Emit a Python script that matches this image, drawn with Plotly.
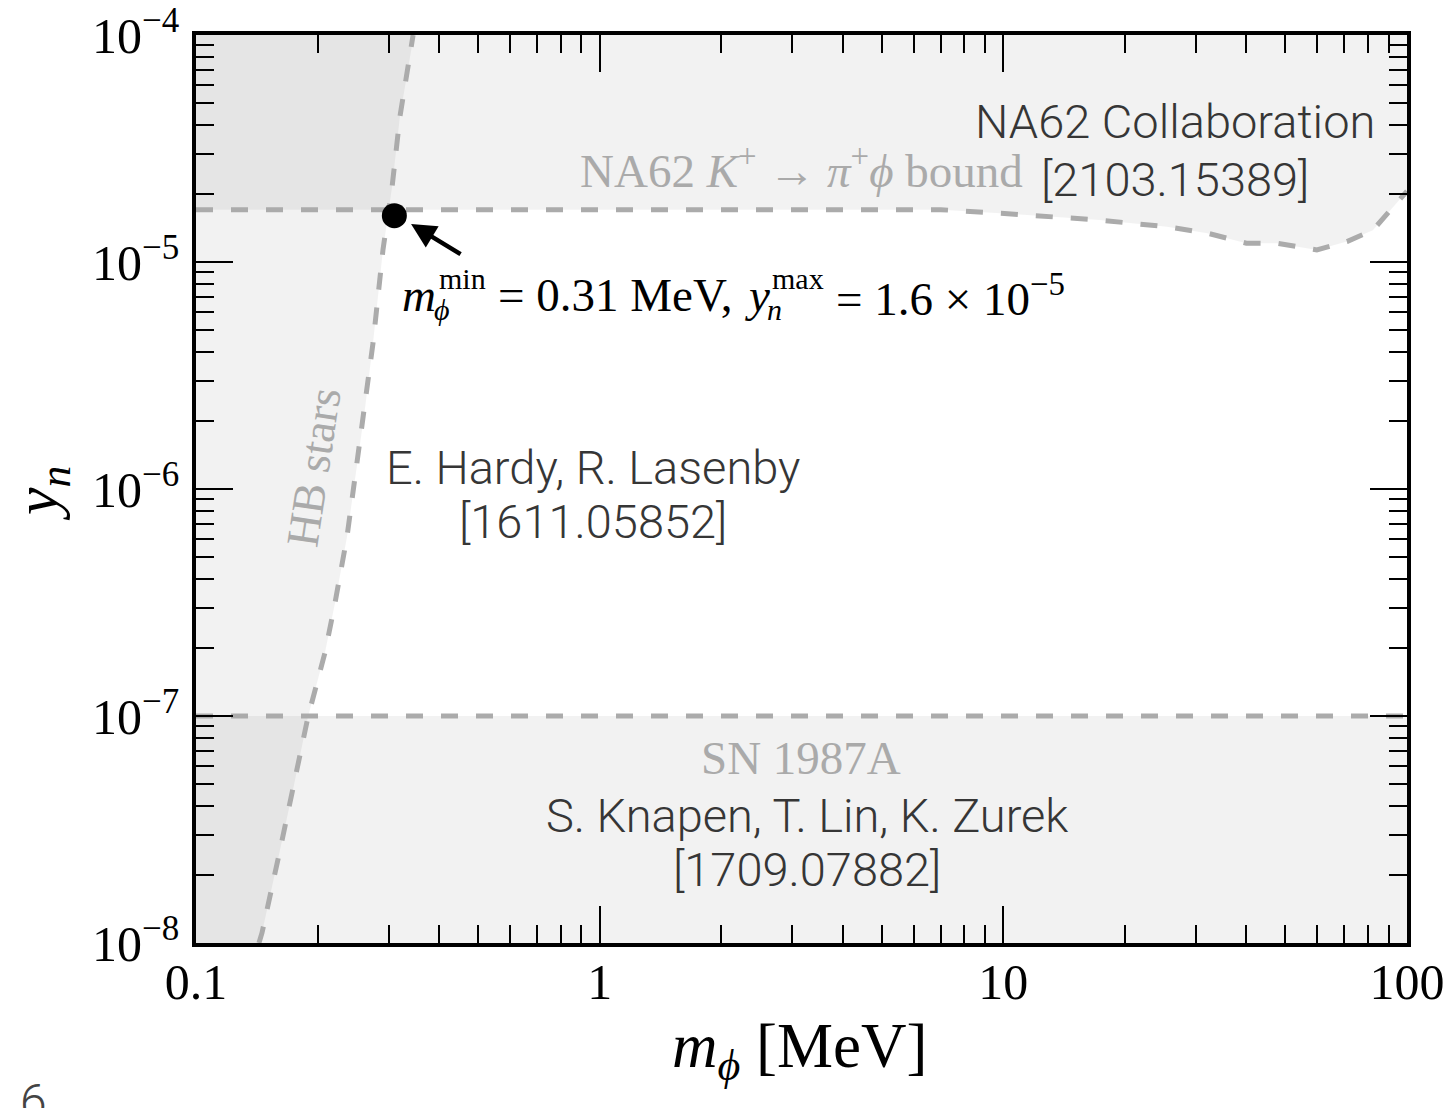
import math
import plotly.graph_objects as go

# Axis ranges (MeV, dimensionless coupling)
m_range = [0.1, 100]
y_range = [1e-8, 1e-4]

# Tick marks and labels
m_ticks = [0.1, 1, 10, 100]
m_tick_text = ["0.1", "1", "10", "100"]
y_ticks = [1e-8, 1e-7, 1e-6, 1e-5, 1e-4]
y_tick_text = ["10<sup>−8</sup>", "10<sup>−7</sup>", "10<sup>−6</sup>",
               "10<sup>−5</sup>", "10<sup>−4</sup>"]

# NA62 K+ -> pi+ phi upper bound
na62_m = [0.1, 7, 9.8, 17.3, 25.4, 32, 40, 47.6, 59.8, 71, 82.3, 100]
na62_y = [1.7e-5, 1.7e-5, 1.64e-5, 1.53e-5, 1.43e-5, 1.34e-5, 1.21e-5,
          1.21e-5, 1.13e-5, 1.23e-5, 1.38e-5, 2.05e-5]

# Horizontal-branch stars bound
hb_m = [0.1432, 0.1457, 0.1615, 0.1739, 0.1894, 0.2087, 0.221, 0.2366,
        0.2476, 0.262, 0.2745, 0.2905, 0.306, 0.320, 0.3447, 0.345]
hb_y = [1e-8, 1.107e-8, 2.57e-8, 4.72e-8, 9.9e-8, 1.9e-7, 3.15e-7, 6.15e-7,
        1.096e-6, 2.23e-6, 4.4e-6, 1.13e-5, 2.14e-5, 4.36e-5, 9.5e-5, 1e-4]

# SN 1987A bound
sn_y = 1e-7

# Highlighted point
m_min = 0.31
y_max = 1.6e-5

fill_col = "rgba(0,0,0,0.05)"
line_col = "#ababab"
dash = "17px,18px"
serif = "Liberation Serif"
sans = "Roboto Light, Roboto"
ink = "#363636"

fig = go.Figure()

# Excluded regions
fig.add_trace(go.Scatter(
    x=na62_m + [m_range[1], m_range[0]],
    y=na62_y + [y_range[1], y_range[1]],
    fill="toself", fillcolor=fill_col, line=dict(width=0), mode="lines",
    hoverinfo="skip"))
fig.add_trace(go.Scatter(
    x=[m_range[0], m_range[1], m_range[1], m_range[0]],
    y=[y_range[0], y_range[0], sn_y, sn_y],
    fill="toself", fillcolor=fill_col, line=dict(width=0), mode="lines",
    hoverinfo="skip"))
fig.add_trace(go.Scatter(
    x=hb_m + [m_range[0], m_range[0]],
    y=hb_y + [y_range[1], y_range[0]],
    fill="toself", fillcolor=fill_col, line=dict(width=0), mode="lines",
    hoverinfo="skip"))

# Bound lines
for xs, ys in [(na62_m, na62_y), (m_range, [sn_y, sn_y]), (hb_m, hb_y)]:
    fig.add_trace(go.Scatter(x=xs, y=ys, mode="lines",
                             line=dict(color=line_col, width=5, dash=dash),
                             hoverinfo="skip"))

fig.add_trace(go.Scatter(x=[m_min], y=[y_max], mode="markers",
                         marker=dict(color="black", size=25)))

L = math.log10
anns = []


def text(x, y, s, size, color, family, weight=None, angle=0,
         xanchor="center", xshift=0, yshift=0):
    f = dict(family=family, size=size, color=color)
    if weight:
        f["weight"] = weight
    anns.append(dict(x=L(x), y=L(y), text=s, showarrow=False, font=f,
                     textangle=angle, xanchor=xanchor, yanchor="middle",
                     xshift=xshift, yshift=yshift))


text(26.6, 4.14e-5, "NA62 Collaboration", 47, ink, sans, 300)
text(26.6, 2.3e-5, "[2103.15389]", 47, ink, sans, 300)
text(3.16, 2.6e-5, "NA62 <i>K</i><sup>+</sup> → <i>π</i><sup>+</sup><i>ϕ</i> bound",
     47, "#aaaaaa", serif)
text(0.962, 1.25e-6, "E. Hardy, R. Lasenby", 47, ink, sans, 300)
text(0.962, 7.16e-7, "[1611.05852]", 47, ink, sans, 300)
text(3.16, 6.53e-8, "SN 1987A", 47, "#aaaaaa", serif)
text(3.26, 3.66e-8, "S. Knapen, T. Lin, K. Zurek", 47, ink, sans, 300)
text(3.26, 2.1e-8, "[1709.07882]", 47, ink, sans, 300)
text(0.195, 1.25e-6, "HB stars", 46, "#aaaaaa", serif, angle=-81.4)

# Label of the highlighted point, with stacked sub/superscripts
lx, ly = 0.32, 7.15e-6
big, small = 47, 30
for s, size, dx, dy in [
    ("<i>m</i>", big, 0, 0),
    ("<i>ϕ</i>", small, 32, -14),
    ("min", small, 37, 17),
    ("= 0.31 MeV,", big, 96, 0),
    ("<i>y</i>", big, 343, 0),
    ("<i>n</i>", small, 365, -14),
    ("max", small, 370, 17),
    ("= 1.6 × 10<sup>−5</sup>", big, 434, 0),
]:
    text(lx, ly, s, size, "black", serif, xanchor="left", xshift=dx, yshift=dy)

# Arrow pointing to the highlighted point
anns.append(dict(x=L(0.341), y=L(1.47e-5), ax=51, ay=31, text="",
                 showarrow=True, arrowhead=2, arrowsize=1.1, arrowwidth=4.5,
                 arrowcolor="black", standoff=0))

# Axis titles
anns.append(dict(xref="paper", yref="paper", x=0.4988, y=-0.118,
                 text="<i>m</i><sub><i>ϕ</i></sub> [MeV]", showarrow=False,
                 font=dict(family=serif, size=63, color="black"),
                 xanchor="center", yanchor="middle"))
anns.append(dict(xref="paper", yref="paper", x=-0.128, y=0.4956,
                 text="<i>y</i><sub><i>n</i></sub>", showarrow=False,
                 font=dict(family=serif, size=62, color="black"),
                 textangle=-90, xanchor="center", yanchor="middle"))
anns.append(dict(xref="paper", yref="paper", x=-0.147, y=-0.141,
                 text="6", showarrow=False,
                 font=dict(family=sans, size=48, color="#444", weight=100),
                 xanchor="left", yanchor="top"))

axis_common = dict(
    type="log", showgrid=False, zeroline=False, automargin=False,
    showline=True, linecolor="black", linewidth=3.5, mirror="allticks",
    ticks="inside", ticklen=37, tickwidth=2.2, tickcolor="black",
    tickmode="array",
    minor=dict(ticks="inside", ticklen=18, tickwidth=2.2, tickcolor="black",
               tickmode="linear", dtick="D1", showgrid=False),
    tickfont=dict(family=serif, size=50, color="black"),
    ticklabeloverflow="allow",
)

pad = 1e-6
fig.update_layout(
    width=1451, height=1108,
    margin=dict(l=196, r=44, t=35, b=165, autoexpand=False),
    paper_bgcolor="white", plot_bgcolor="white",
    showlegend=False,
    annotations=anns,
    xaxis=dict(axis_common, range=[L(m_range[0]) - pad, L(m_range[1]) + pad],
               tickvals=m_ticks, ticktext=m_tick_text, ticklabelstandoff=-8),
    yaxis=dict(axis_common, range=[L(y_range[0]) - pad, L(y_range[1]) + pad],
               tickvals=y_ticks, ticktext=y_tick_text, ticklabelstandoff=3),
)

fig.write_html("out.html")
